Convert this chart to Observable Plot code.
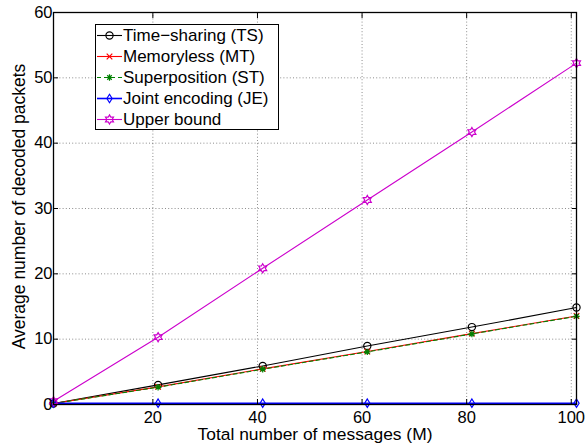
<!DOCTYPE html>
<html>
<head>
<meta charset="utf-8">
<script src="https://cdn.jsdelivr.net/npm/d3@7"></script>
<script src="https://cdn.jsdelivr.net/npm/@observablehq/plot@0.6"></script>
<style>
  html, body { margin: 0; padding: 0; background: white; }
  #wrap { position: relative; width: 587px; height: 444px; font-family: "Liberation Sans", Arial, sans-serif; }
  #legend { position: absolute; left: 95px; top: 24px; width: 184px; height: 106px; border: 1px solid #000; background: #fff; box-sizing: border-box; padding-top: 0px; }
  .row { display: flex; align-items: center; height: 21px; font-size: 17px; white-space: nowrap; }
  .row svg { flex: none; margin-left: 0px; margin-right: 0px; }
</style>
</head>
<body>
<div id="wrap"><div id="legend"></div></div>
<script>
// ---- data ----
const messages = [1, 21, 41, 61, 81, 101];
const timeSharing = [0.15, 3.0, 5.9, 8.95, 11.85, 14.85];
const memoryless = [0.15, 2.7, 5.45, 8.1, 10.85, 13.55];
const superposition = [0.15, 2.65, 5.4, 8.05, 10.8, 13.5];
const jointEncoding = [0.2, 0.2, 0.2, 0.2, 0.2, 0.2];
const upperBound = [0.5, 10.3, 20.85, 31.3, 41.7, 52.25];
const seriesNames = ["Time\u2212sharing (TS)", "Memoryless (MT)", "Superposition (ST)", "Joint encoding (JE)", "Upper bound"];
const xTicks = [20, 40, 60, 80, 100];
const yTicks = [0, 10, 20, 30, 40, 50, 60];
const xLabel = "Total number of messages (M)";
const yLabel = "Average number of decoded packets";

// ---- symbols ----
const rOf = size => Math.sqrt(size / Math.PI);
const symTimes = { draw(c, s) { const r = rOf(s); c.moveTo(-r, -r); c.lineTo(r, r); c.moveTo(-r, r); c.lineTo(r, -r); } };
const symAst = { draw(c, s) { const r = rOf(s); const d = r * 0.7071;
  c.moveTo(-r, 0); c.lineTo(r, 0); c.moveTo(0, -r); c.lineTo(0, r);
  c.moveTo(-d, -d); c.lineTo(d, d); c.moveTo(-d, d); c.lineTo(d, -d); } };
const symDiamond = { draw(c, s) { const r = rOf(s); c.moveTo(0, -r); c.lineTo(0.62 * r, 0); c.lineTo(0, r); c.lineTo(-0.62 * r, 0); c.closePath(); } };
const symHex = { draw(c, s) { const R = rOf(s), ri = R / Math.sqrt(3);
  for (let i = 0; i < 12; i++) { const a = (i * 30 - 90) * Math.PI / 180; const rr = i % 2 ? ri : R;
    const x = rr * Math.cos(a), y = rr * Math.sin(a); if (i) c.lineTo(x, y); else c.moveTo(x, y); }
  c.closePath(); } };

const series = [
  { name: seriesNames[0], values: timeSharing, color: "#000000", dash: null, symbol: "circle", r: 3.6, sw: 1.1 },
  { name: seriesNames[1], values: memoryless, color: "#ff0000", dash: null, symbol: symTimes, r: 2.8, sw: 1.1 },
  { name: seriesNames[2], values: superposition, color: "#008000", dash: "4,3", symbol: symAst, r: 3.2, sw: 1.1 },
  { name: seriesNames[3], values: jointEncoding, color: "#0000ff", dash: null, symbol: symDiamond, r: 4.2, sw: 1.6 },
  { name: seriesNames[4], values: upperBound, color: "#cc00cc", dash: null, symbol: symHex, r: 4.6, sw: 1.1 }
];

const marks = [
  Plot.gridX(xTicks, { stroke: "#000", strokeOpacity: 0.45, strokeDasharray: "1,2.2", strokeWidth: 1 }),
  Plot.gridY(yTicks, { stroke: "#000", strokeOpacity: 0.45, strokeDasharray: "1,2.2", strokeWidth: 1 }),
];
for (const s of series) {
  const data = messages.map((m, i) => ({ x: m, y: s.values[i] }));
  marks.push(Plot.line(data, { x: "x", y: "y", stroke: s.color, strokeWidth: s.sw, strokeDasharray: s.dash }));
  marks.push(Plot.dot(data, { x: "x", y: "y", stroke: s.color, fill: "none", symbol: s.symbol, r: s.r, strokeWidth: 1.2 }));
}
marks.push(
  Plot.axisX(xTicks, { anchor: "bottom", tickSize: -5, tickFormat: null, text: null, label: null }),
  Plot.text(xTicks, { x: d => d, text: d => String(d), frameAnchor: "bottom", dy: 13, fontSize: 16.5, lineAnchor: "middle" }),
  Plot.axisX(xTicks, { anchor: "top", tickSize: -5, tickFormat: null, label: null, text: null }),
  Plot.axisY(yTicks, { anchor: "left", tickSize: -5, tickPadding: 6, label: null, fontSize: 16.5 }),
  Plot.axisY(yTicks, { anchor: "right", tickSize: -5, label: null, text: null }),
  Plot.frame({ stroke: "#000", strokeWidth: 1.3 }),
  Plot.text([xLabel], { text: d => d, frameAnchor: "bottom", dy: 30, fontSize: 17.4, lineAnchor: "middle" }),
  Plot.text([yLabel], { text: d => d, frameAnchor: "left", textAnchor: "middle", dx: -34.5, dy: -2, rotate: -90, fontSize: 17.5, lineAnchor: "middle" })
);

const chart = Plot.plot({
  width: 587, height: 444,
  marginLeft: 53, marginRight: 11, marginTop: 12, marginBottom: 40,
  x: { domain: [1, 101] },
  y: { domain: [0, 60] },
  style: { fontFamily: "'Liberation Sans', Arial, sans-serif", fontSize: "17px", background: "white", color: "#000" },
  marks
});
document.getElementById("wrap").prepend(chart);

// ---- legend (HTML overlay) ----
const legend = document.getElementById("legend");
const symPath = s => d3.symbol(s.symbol === "circle" ? d3.symbolCircle : s.symbol, s.r * s.r * Math.PI)();
for (const s of series) {
  const row = document.createElement("div");
  row.className = "row";
  const ns = "http://www.w3.org/2000/svg";
  const svg = document.createElementNS(ns, "svg");
  svg.setAttribute("width", 27); svg.setAttribute("height", 21);
  const line = document.createElementNS(ns, "line");
  line.setAttribute("x1", 1); line.setAttribute("x2", 26); line.setAttribute("y1", 10.5); line.setAttribute("y2", 10.5);
  line.setAttribute("stroke", s.color); line.setAttribute("stroke-width", s.sw);
  if (s.dash) line.setAttribute("stroke-dasharray", "4,3");
  svg.appendChild(line);
  const p = document.createElementNS(ns, "path");
  p.setAttribute("d", symPath(s)); p.setAttribute("transform", "translate(13.5,10.5)");
  p.setAttribute("stroke", s.color); p.setAttribute("fill", "none"); p.setAttribute("stroke-width", 1.2);
  svg.appendChild(p);
  row.appendChild(svg);
  const t = document.createElement("span");
  t.textContent = s.name;
  row.appendChild(t);
  legend.appendChild(row);
}
</script>
</body>
</html>
